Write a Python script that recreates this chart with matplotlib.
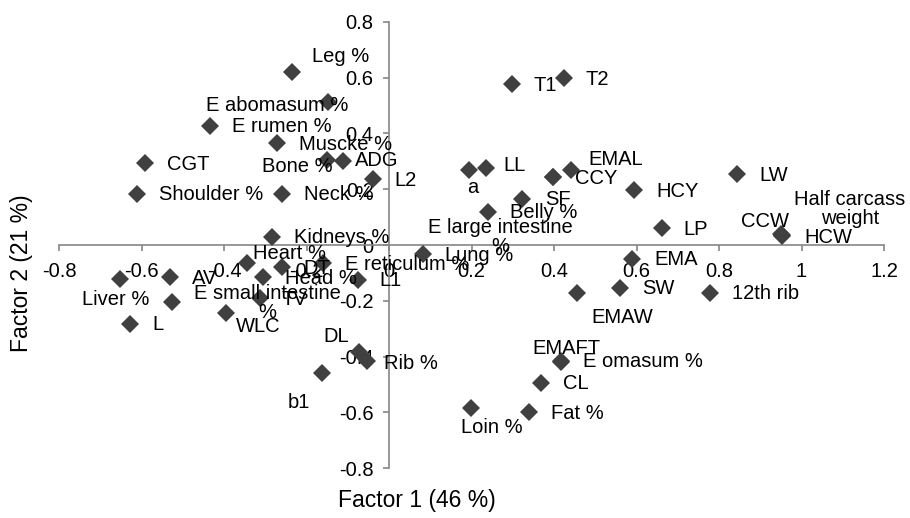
import matplotlib.pyplot as plt

# factor loadings
labels = ['Leg %', 'E abomasum %', 'E rumen %', 'Muscke %', 'Bone %', 'ADG', 'L2',
          'CGT', 'Shoulder %', 'Neck %', 'Kidneys %', 'Heart %', 'DT', 'E reticulum %',
          'Head %', 'L1', 'TV', 'AV', 'Liver %', 'E small intestine\n%', 'L', 'WLC',
          'DL', 'Rib %', 'b1', 'Lung %', 'E large intestine\n%', 'Belly %', 'SF', 'CCY',
          'EMAL', 'a', 'LL', 'T1', 'T2', 'HCY', 'LW', 'LP', 'CCW', 'HCW',
          'Half carcass\nweight', 'EMA', 'SW', '12th rib', 'EMAW', 'EMAFT', 'E omasum %',
          'CL', 'Fat %', 'Loin %']
factor1 = [-0.234, -0.147, -0.434, -0.271, -0.151, -0.112, -0.040,
           -0.592, -0.610, -0.259, -0.284, -0.344, -0.260, -0.160,
           -0.305, -0.076, -0.313, -0.531, -0.651, -0.526, -0.628, -0.396,
           -0.073, -0.054, -0.162, 0.083, 0.241, 0.322, 0.397, 0.398,
           0.440, 0.194, 0.234, 0.297, 0.424, 0.595, 0.844, 0.661, 0.952, 0.953,
           0.950, 0.589, 0.560, 0.778, 0.456, 0.416, 0.418,
           0.368, 0.340, 0.199]
factor2 = [0.621, 0.511, 0.427, 0.365, 0.305, 0.302, 0.235,
           0.293, 0.183, 0.183, 0.029, -0.065, -0.079, -0.066,
           -0.116, -0.125, -0.190, -0.116, -0.123, -0.204, -0.282, -0.243,
           -0.382, -0.415, -0.458, -0.033, 0.117, 0.165, 0.245, 0.243,
           0.269, 0.269, 0.277, 0.577, 0.597, 0.197, 0.254, 0.060, 0.036, 0.032,
           0.039, -0.050, -0.154, -0.172, -0.172, -0.418, -0.415,
           -0.494, -0.599, -0.583]

# labels that were moved off the default right-hand spot (pixels from marker)
moved = {
    'Leg %': (20, 15, 'left'),
    'E abomasum %': (-51, -3, 'center'),
    'Bone %': (-29, -7, 'center'),
    'ADG': (12, 0, 'left'),
    'Heart %': (42, 10, 'center'),
    'Liver %': (-5, -20, 'center'),
    'WLC': (33, -14, 'center'),
    'DL': (-23, 15, 'center'),
    'Rib %': (17, -3, 'left'),
    'b1': (-23, -30, 'center'),
    'E large intestine\n%': (12, -25, 'center'),
    'Belly %': (22, -14, 'center'),
    'SF': (5, -23, 'center'),
    'EMAL': (45, 10, 'center'),
    'a': (4, -18, 'center'),
    'LL': (18, 2, 'left'),
    'CCW': (-17, 13, 'center'),
    'Half carcass\nweight': (69, 25, 'center'),
    'EMAW': (45, -25, 'center'),
    'EMAFT': (6, 13, 'center'),
    'Loin %': (21, -20, 'center'),
}

plt.rcParams['font.family'] = ['Liberation Sans', 'DejaVu Sans']

fig = plt.figure(figsize=(9.1, 5.18), dpi=100)
ax = fig.add_axes([59 / 910, 49.8 / 518, 825 / 910, 446.4 / 518])

ax.plot(factor1, factor2, 'D', color='#404040', ms=9, mew=0, zorder=3)

for name, x, y in zip(labels, factor1, factor2):
    dx, dy, ha = moved.get(name, (22, -1, 'left'))
    ax.annotate(name, (x, y), xytext=(dx, dy), textcoords='offset pixels',
                ha=ha, va='center', fontsize=14.5, multialignment='center',
                linespacing=1.0, annotation_clip=False, zorder=4)

ax.set_xlim(-0.8, 1.2)
ax.set_ylim(-0.8, 0.8)
ax.set_xticks([-0.8, -0.6, -0.4, -0.2, 0, 0.2, 0.4, 0.6, 0.8, 1, 1.2])
ax.set_xticklabels(['-0.8', '-0.6', '-0.4', '-0.2', '0', '0.2', '0.4', '0.6', '0.8', '1', '1.2'])
ax.set_yticks([-0.8, -0.6, -0.4, -0.2, 0, 0.2, 0.4, 0.6, 0.8])
ax.set_yticklabels(['-0.8', '-0.6', '-0.4', '-0.2', '0', '0.2', '0.4', '0.6', '0.8'])

for s in ['top', 'right']:
    ax.spines[s].set_visible(False)
ax.spines['left'].set_position(('data', 0))
ax.spines['bottom'].set_position(('data', 0))
for s in ['left', 'bottom']:
    ax.spines[s].set_color('#868686')
    ax.spines[s].set_linewidth(1.2)
ax.tick_params(direction='out', length=4, width=1.2, color='#868686',
               labelsize=14.5)
ax.tick_params(axis='x', pad=8.5)
ax.tick_params(axis='y', pad=7)
ax.patch.set_visible(False)

fig.text(417 / 910, 1 - 500 / 518, 'Factor 1 (46 %)', fontsize=16.5,
         ha='center', va='center')
fig.text(22 / 910, 1 - 273 / 518, 'Factor 2 (21 %)', fontsize=16.5,
         ha='center', va='center', rotation=90)

fig.savefig('out.png', dpi=100)
